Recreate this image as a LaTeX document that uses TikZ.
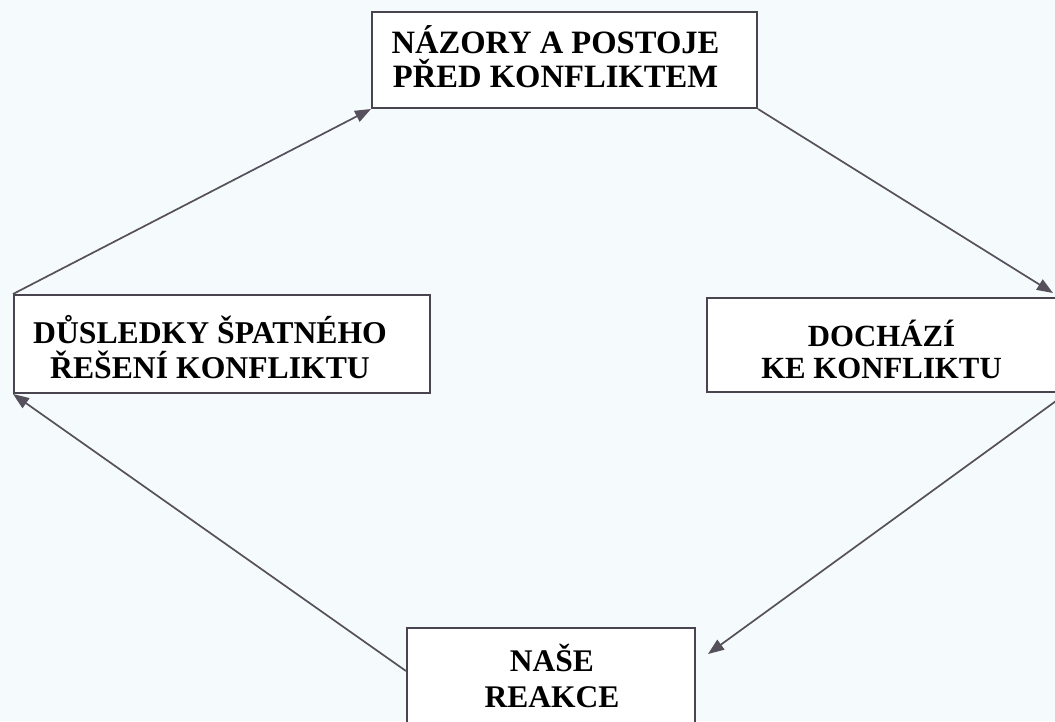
\documentclass[tikz,border=0pt]{standalone}
\usepackage{fontspec}
\setmainfont{Liberation Serif}
\usetikzlibrary{arrows.meta,calc}
\definecolor{bg}{HTML}{F5FAFC}
\definecolor{boxline}{HTML}{4A4450}
\definecolor{arrline}{HTML}{55505B}
\tikzset{
  cbox/.style={draw=boxline, line width=2pt, fill=white, rectangle, inner sep=0pt},
  lbl/.style={inner sep=0pt, align=center},
  cyc/.style={draw=arrline, line width=1.7pt, -{Triangle[length=16pt,width=12pt]}}
}
\begin{document}
\begin{tikzpicture}[x=1pt,y=-1pt]
\useasboundingbox (0,0) rectangle (1055,721);
\fill[bg] (0,0) rectangle (1055,721);
\clip (0,0) rectangle (1055,721);
\node[cbox, minimum width=385pt, minimum height=96pt] (top) at (564.5,60) {};
\node[cbox, minimum width=416pt, minimum height=98pt] (left) at (222,344) {};
\node[cbox, minimum width=359pt, minimum height=94pt] (right) at (886.5,345) {};
\node[cbox, minimum width=288pt, minimum height=96pt] (bottom) at (551,676) {};
\node[lbl, font=\fontsize{32.6}{34}\selectfont\bfseries] (toptxt) at ($(top)+(-9,-3)$) {NÁZORY A POSTOJE\\PŘED KONFLIKTEM};
\node[lbl, font=\fontsize{31.7}{35}\selectfont\bfseries] (lefttxt) at ($(left)+(-12,3)$) {DŮSLEDKY ŠPATNÉHO\\ŘEŠENÍ KONFLIKTU};
\node[lbl, font=\fontsize{30.8}{32}\selectfont\bfseries] (righttxt) at ($(right)+(-5,4)$) {DOCHÁZÍ\\KE KONFLIKTU};
\node[lbl, font=\fontsize{31.5}{36}\selectfont\bfseries] (bottomtxt) at ($(bottom)+(1,0)$) {NAŠE\\REAKCE};
\draw[cyc] (left.north west) -- (top.south west);
\draw[cyc] (top.south east) -- ($(right.north east)+(-14,-4)$);
\draw[cyc] (right.south east) -- ($(bottom.north east)+(12,27)$);
\draw[cyc] ($(bottom.north west)+(0,44)$) -- (left.south west);
\end{tikzpicture}
\end{document}
